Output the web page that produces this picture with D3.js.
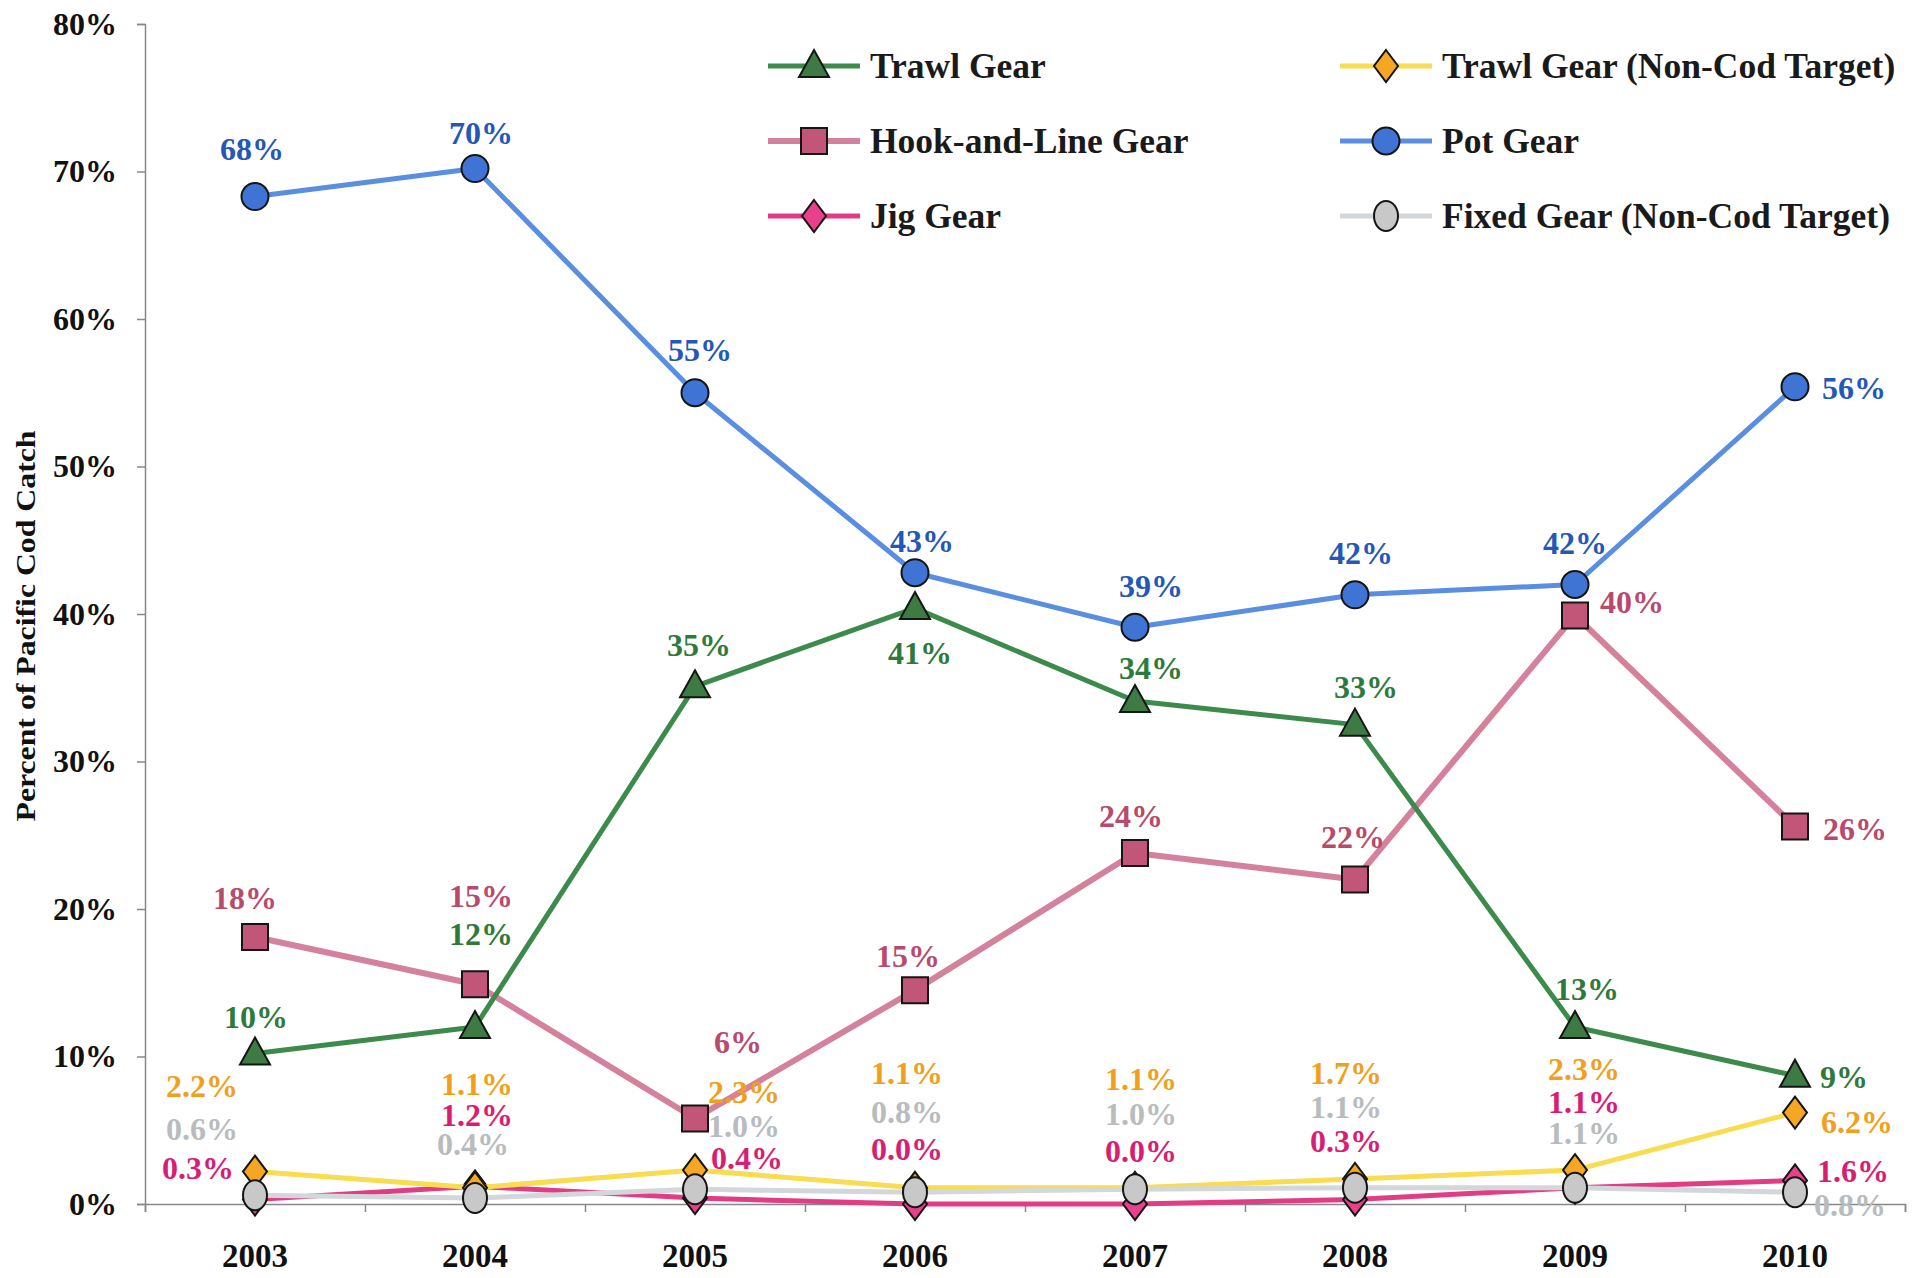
<!DOCTYPE html>
<html>
<head>
<meta charset="utf-8">
<script src="https://cdn.jsdelivr.net/npm/d3@7"></script>
<style>
  body { margin: 0; background: #fff; }
  svg text { font-family: "Liberation Serif", "Times New Roman", serif; font-weight: bold; }
</style>
</head>
<body>
<svg id="chart" width="1927" height="1278"></svg>
<script>
// Data (percent of Pacific cod catch)
var years = [2003, 2004, 2005, 2006, 2007, 2008, 2009, 2010];

var trawlGear     = [10.2, 12.0, 35.1, 40.4, 34.1, 32.5, 12.0, 8.7];
var hookLineGear  = [18.1, 14.9, 5.8, 14.5, 23.8, 22.0, 39.9, 25.6];
var jigGear       = [0.3, 1.2, 0.4, 0.0, 0.0, 0.3, 1.1, 1.6];
var trawlNonCod   = [2.2, 1.1, 2.3, 1.1, 1.1, 1.7, 2.3, 6.2];
var potGear       = [68.3, 70.2, 55.0, 42.8, 39.1, 41.3, 42.0, 55.4];
var fixedNonCod   = [0.6, 0.4, 1.0, 0.8, 1.0, 1.1, 1.1, 0.8];

var trawlLabels   = ["10%", "12%", "35%", "41%", "34%", "33%", "13%", "9%"];
var hookLabels    = ["18%", "15%", "6%", "15%", "24%", "22%", "40%", "26%"];
var jigLabels     = ["0.3%", "1.2%", "0.4%", "0.0%", "0.0%", "0.3%", "1.1%", "1.6%"];
var trawlNCLabels = ["2.2%", "1.1%", "2.3%", "1.1%", "1.1%", "1.7%", "2.3%", "6.2%"];
var potLabels     = ["68%", "70%", "55%", "43%", "39%", "42%", "42%", "56%"];
var fixedLabels   = ["0.6%", "0.4%", "1.0%", "0.8%", "1.0%", "1.1%", "1.1%", "0.8%"];

var yTicks = [0, 10, 20, 30, 40, 50, 60, 70, 80];

// label placement relative to each point (px)
var trawlOff   = [[1,-37],[6,-93],[4,-41],[5,45],[16,-33],[11,-38],[12,-38],[49,1]];
var hookOff    = [[-10,-39],[6,-88],[43,-77],[-7,-34],[-4,-37],[-2,-43],[57,-14],[60,2]];
var jigOff     = [[-57,-32],[2,-72],[52,-40],[-8,-55],[6,-53],[-9,-59],[9,-86],[58,-10]];
var trawlNCOff = [[-53,-86],[2,-104],[49,-78],[-8,-115],[6,-109],[-9,-106],[9,-101],[62,9]];
var potOff     = [[-3,-48],[6,-36],[5,-43],[7,-32],[16,-41],[6,-42],[0,-42],[59,1]];
var fixedOff   = [[-53,-66],[-2,-54],[49,-63],[-8,-80],[6,-75],[-9,-81],[9,-55],[55,13]];

var svg = d3.select("#chart");

var x = d3.scaleBand().domain(years).range([145, 1905]);
var y = d3.scaleLinear().domain([0, 80]).range([1204, 24]);

// shapes
function markerPath(shape) {
    if (shape === "triangle") return "M0,-16L15,11L-15,11Z";
    if (shape === "square") return "M-13,-13H13V13H-13Z";
    if (shape === "diamond") return "M0,-16L12,0L0,16L-12,0Z";
    return null;
}

var series = [
    { name: "Jig Gear", values: jigGear, labels: jigLabels, off: jigOff, line: "#e23d84", fill: "#e8408a", text: "#d81e73", shape: "diamond", width: 5 },
    { name: "Trawl Gear (Non-Cod Target)", values: trawlNonCod, labels: trawlNCLabels, off: trawlNCOff, line: "#f8dc52", fill: "#f5a623", text: "#f0a01e", shape: "diamond", width: 5 },
    { name: "Fixed Gear (Non-Cod Target)", values: fixedNonCod, labels: fixedLabels, off: fixedOff, line: "#d3d7d9", fill: "#c8c8c8", text: "#b8bcbe", shape: "ellipse", width: 5 },
    { name: "Hook-and-Line Gear", values: hookLineGear, labels: hookLabels, off: hookOff, line: "#d4829b", fill: "#c25678", text: "#b84a6e", shape: "square", width: 6 },
    { name: "Trawl Gear", values: trawlGear, labels: trawlLabels, off: trawlOff, line: "#3c8a4c", fill: "#3e7a44", text: "#2e7a3c", shape: "triangle", width: 5 },
    { name: "Pot Gear", values: potGear, labels: potLabels, off: potOff, line: "#5a8ee0", fill: "#3f74d4", text: "#2457b8", shape: "circle", width: 5 }
];

// Axes
var yAxis = svg.append("g")
    .attr("transform", "translate(145,0)")
    .call(d3.axisLeft(y).tickValues(yTicks).tickSize(8).tickPadding(20).tickFormat(function(d) { return d + "%"; }));
yAxis.select(".domain").attr("stroke", "#888").attr("stroke-width", 1.5);
yAxis.selectAll(".tick line").attr("stroke", "#888").attr("stroke-width", 1.5);
yAxis.selectAll("text").style("font-size", "32px").attr("fill", "#111");

var xb = d3.scaleLinear().domain([0, 8]).range([145, 1905]);
var xTickAxis = svg.append("g")
    .attr("transform", "translate(0,1204)")
    .call(d3.axisBottom(xb).ticks(8).tickSize(8).tickFormat(""));
xTickAxis.select(".domain").attr("stroke", "#888").attr("stroke-width", 1.5);
xTickAxis.selectAll(".tick line").attr("stroke", "#888").attr("stroke-width", 1.5);

var xAxis = svg.append("g")
    .attr("transform", "translate(0,1204)")
    .call(d3.axisBottom(x).tickSize(0).tickPadding(40));
xAxis.select(".domain").remove();
xAxis.selectAll("text").style("font-size", "33px").attr("fill", "#111");

// y axis title
svg.append("text")
    .attr("transform", "translate(35,626) rotate(-90)")
    .attr("text-anchor", "middle")
    .attr("textLength", 391)
    .attr("lengthAdjust", "spacingAndGlyphs")
    .style("font-size", "27px")
    .attr("fill", "#111")
    .text("Percent of Pacific Cod Catch");

var line = d3.line()
    .x(function(d, i) { return x(years[i]) + x.bandwidth() / 2; })
    .y(function(d) { return y(d); });

function drawMarker(g, s, cx, cy) {
    if (s.shape === "circle") {
        g.append("circle").attr("cx", cx).attr("cy", cy).attr("r", 13.5)
            .attr("fill", s.fill).attr("stroke", "#151515").attr("stroke-width", 2);
    } else if (s.shape === "ellipse") {
        g.append("ellipse").attr("cx", cx).attr("cy", cy).attr("rx", 12).attr("ry", 15)
            .attr("fill", s.fill).attr("stroke", "#151515").attr("stroke-width", 2);
    } else {
        g.append("path").attr("d", markerPath(s.shape))
            .attr("transform", "translate(" + cx + "," + cy + ")")
            .attr("fill", s.fill).attr("stroke", "#151515").attr("stroke-width", 2);
    }
}

series.forEach(function(s) {
    var g = svg.append("g");
    g.append("path")
        .attr("d", line(s.values))
        .attr("fill", "none")
        .attr("stroke", s.line)
        .attr("stroke-width", s.width)
        .attr("stroke-linejoin", "round");
    s.values.forEach(function(v, i) {
        drawMarker(g, s, x(years[i]) + x.bandwidth() / 2, y(v));
    });
});

// data labels on top
series.forEach(function(s) {
    svg.append("g").selectAll("text")
        .data(s.values)
        .enter().append("text")
        .attr("x", function(d, i) { return x(years[i]) + x.bandwidth() / 2 + s.off[i][0]; })
        .attr("y", function(d, i) { return y(d) + s.off[i][1]; })
        .attr("dy", "0.35em")
        .attr("text-anchor", "middle")
        .style("font-size", "32px")
        .attr("fill", s.text)
        .text(function(d, i) { return s.labels[i]; });
});

// Legend
var legendOrder = ["Trawl Gear", "Trawl Gear (Non-Cod Target)", "Hook-and-Line Gear", "Pot Gear", "Jig Gear", "Fixed Gear (Non-Cod Target)"];
var legend = svg.selectAll(".legend")
    .data(legendOrder)
    .enter().append("g")
    .attr("class", "legend")
    .attr("transform", function(d, i) {
        var col = i % 2, row = Math.floor(i / 2);
        return "translate(" + (col === 0 ? 768 : 1340) + "," + (66 + row * 75) + ")";
    });

legend.each(function(name) {
    var s = series.find(function(t) { return t.name === name; });
    var g = d3.select(this);
    g.append("line").attr("x1", 0).attr("x2", 92).attr("y1", 0).attr("y2", 0)
        .attr("stroke", s.line).attr("stroke-width", s.width);
    drawMarker(g, s, 46, 0);
    g.append("text")
        .attr("x", 102)
        .attr("dy", "0.35em")
        .style("font-size", "35.5px")
        .attr("fill", "#1a1a1a")
        .text(name);
});
</script>
</body>
</html>
